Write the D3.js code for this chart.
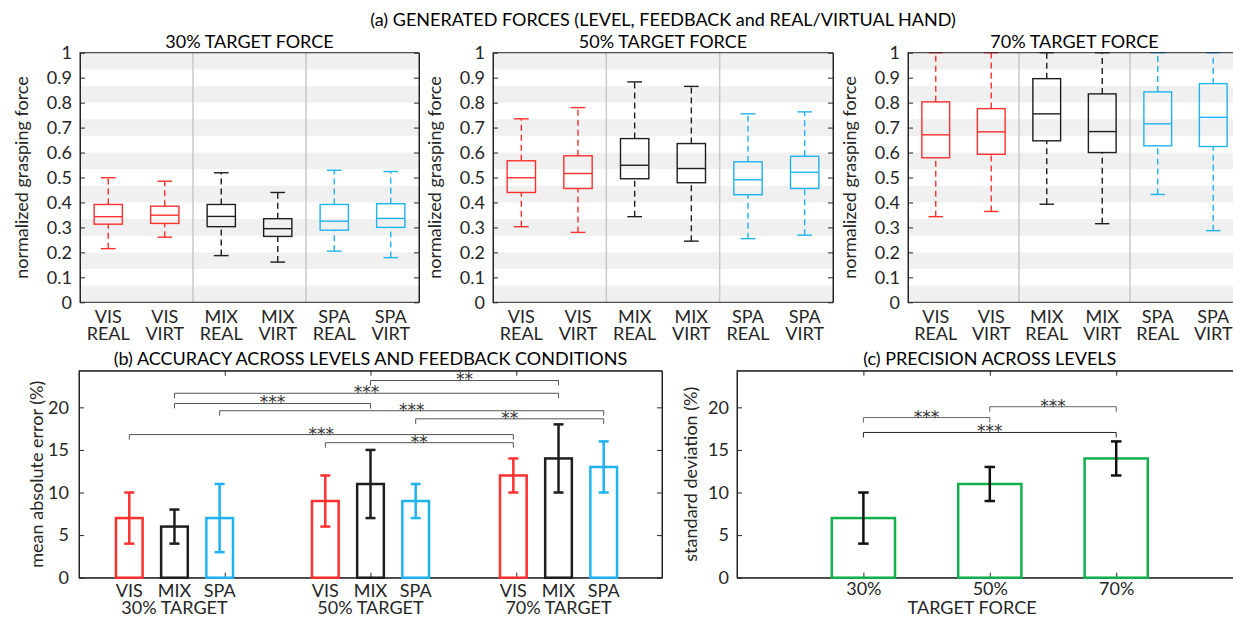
<!DOCTYPE html>
<html>
<head>
<meta charset="utf-8">
<script src="https://cdn.jsdelivr.net/npm/d3@7"></script>
<style>
  body { margin: 0; background: #fff; }
  text { font-family: Lato, "Noto Sans", sans-serif; fill: #262626; }
  .axis path, .axis line { stroke: #262626; }
  .stars { font-family: "DejaVu Sans", sans-serif; fill: #333; }
</style>
</head>
<body>
<svg id="fig" width="1233" height="617"></svg>
<script>

// ---- data ----
var boxCats = [["VIS", "REAL"], ["VIS", "VIRT"], ["MIX", "REAL"], ["MIX", "VIRT"], ["SPA", "REAL"], ["SPA", "VIRT"]];
var boxTitles = ["30% TARGET FORCE", "50% TARGET FORCE", "70% TARGET FORCE"];
var forceTicks = [0, 0.1, 0.2, 0.3, 0.4, 0.5, 0.6, 0.7, 0.8, 0.9, 1];

// [lower whisker, q1, median, q3, upper whisker]
var box30 = [[0.215, 0.313, 0.343, 0.392, 0.499], [0.261, 0.316, 0.349, 0.385, 0.485],
             [0.187, 0.303, 0.344, 0.392, 0.519], [0.161, 0.264, 0.295, 0.335, 0.440],
             [0.205, 0.289, 0.325, 0.392, 0.529], [0.179, 0.300, 0.336, 0.395, 0.524]];
var box50 = [[0.303, 0.440, 0.499, 0.567, 0.735], [0.280, 0.456, 0.516, 0.587, 0.780],
             [0.343, 0.495, 0.549, 0.656, 0.883], [0.245, 0.479, 0.536, 0.636, 0.865],
             [0.255, 0.431, 0.491, 0.563, 0.755], [0.269, 0.456, 0.521, 0.585, 0.763]];
var box70 = [[0.343, 0.579, 0.671, 0.803, 1.0], [0.364, 0.593, 0.683, 0.776, 1.0],
             [0.393, 0.647, 0.755, 0.896, 1.0], [0.315, 0.600, 0.684, 0.835, 1.0],
             [0.432, 0.627, 0.715, 0.843, 1.0], [0.287, 0.624, 0.741, 0.876, 1.0]];

var feedback = ["VIS", "MIX", "SPA"];
var accLevels = ["30% TARGET", "50% TARGET", "70% TARGET"];
var accMean = [[7, 6, 7], [9, 11, 9], [12, 14, 13]];
var accErr = [[3, 2, 4], [3, 4, 2], [2, 4, 3]];
// significance: [level, feedback] pairs, bracket height, label
var accSig = [
  { a: [1, 1], b: [2, 1], h: 23.15, s: "**" },
  { a: [0, 1], b: [2, 1], h: 21.65, s: "***" },
  { a: [0, 1], b: [1, 1], h: 20.45, s: "***" },
  { a: [0, 2], b: [2, 2], h: 19.6, s: "***" },
  { a: [1, 2], b: [2, 2], h: 18.65, s: "**" },
  { a: [0, 0], b: [2, 0], h: 16.8, s: "***" },
  { a: [1, 0], b: [2, 0], h: 15.85, s: "**" }
];
var errTicks = [0, 5, 10, 15, 20];

var precLevels = ["30%", "50%", "70%"];
var precMean = [7, 11, 14];
var precErr = [3, 2, 2];
var precSig = [
  { a: 0, b: 1, h: 18.8, s: "***" },
  { a: 1, b: 2, h: 20.07, s: "***" },
  { a: 0, b: 2, h: 17.05, s: "***" }
];

// ---- styles / layout ----
var fbColor = { VIS: "#ff3030", MIX: "#1e1e1e", SPA: "#1fb3f0" };
var green = "#13b04f";
var svg = d3.select("#fig");

function mathFmt(d) { return (d === 0 || d === 1) ? String(d) : d3.format(".1f")(d); }

// ---- (a) box plots ----
svg.append("text").attr("x", 663).attr("y", 26).attr("text-anchor", "middle")
  .style("font-size", "18px").style("fill", "#000")
  .text("(a) GENERATED FORCES (LEVEL, FEEDBACK and REAL/VIRTUAL HAND)");

var boxPanels = [{ x0: 80, x1: 419, d: box30 }, { x0: 493, x1: 833, d: box50 }, { x0: 908, x1: 1241, d: box70 }];
var topY0 = 52.7, topY1 = 302.3;

boxPanels.forEach(function(p, pi) {
  var g = svg.append("g");
  var x = d3.scaleLinear().domain([0.5, 6.5]).range([p.x0, p.x1]);
  var y = d3.scaleLinear().domain([0, 1]).range([topY1, topY0]);

  // striped background
  g.selectAll("rect.band").data(d3.range(0, 15, 2)).enter().append("rect")
    .attr("x", p.x0).attr("width", p.x1 - p.x0)
    .attr("y", function(i) { return y((i + 1) / 15); })
    .attr("height", function(i) { return y(i / 15) - y((i + 1) / 15); })
    .attr("fill", "#f0f0f0");

  // group separators
  g.selectAll("line.sep").data([2.5, 4.5]).enter().append("line")
    .attr("x1", x).attr("x2", x).attr("y1", topY0).attr("y2", topY1)
    .attr("stroke", "#c9c9c9").attr("stroke-width", 1.5);

  var bw = 0.5, cw = 0.26;
  p.d.forEach(function(b, i) {
    var c = fbColor[boxCats[i][0]], cx = x(i + 1);
    var bg = g.append("g").attr("stroke", c).attr("stroke-width", 1.4).attr("fill", "none");
    bg.append("line").attr("x1", cx).attr("x2", cx).attr("y1", y(b[0])).attr("y2", y(b[1]))
      .attr("stroke-dasharray", "6,4");
    bg.append("line").attr("x1", cx).attr("x2", cx).attr("y1", y(b[3])).attr("y2", y(b[4]))
      .attr("stroke-dasharray", "6,4");
    [b[0], b[4]].forEach(function(v) {
      bg.append("line").attr("x1", x(i + 1 - cw / 2)).attr("x2", x(i + 1 + cw / 2))
        .attr("y1", y(v)).attr("y2", y(v));
    });
    bg.append("rect").attr("x", x(i + 1 - bw / 2)).attr("width", x(i + 1 + bw / 2) - x(i + 1 - bw / 2))
      .attr("y", y(b[3])).attr("height", y(b[1]) - y(b[3]));
    bg.append("line").attr("x1", x(i + 1 - bw / 2)).attr("x2", x(i + 1 + bw / 2))
      .attr("y1", y(b[2])).attr("y2", y(b[2]));
  });

  // frame + axes
  g.append("rect").attr("x", p.x0).attr("y", topY0).attr("width", p.x1 - p.x0).attr("height", topY1 - topY0)
    .attr("fill", "none").attr("stroke", "#262626");
  var la = g.append("g").attr("class", "axis").attr("transform", "translate(" + p.x0 + ",0)")
    .call(d3.axisLeft(y).tickValues(forceTicks).tickFormat(mathFmt).tickSizeInner(-5).tickSizeOuter(0).tickPadding(8));
  la.selectAll("text").style("font-size", "18px");
  g.append("g").attr("class", "axis").attr("transform", "translate(" + p.x1 + ",0)")
    .call(d3.axisRight(y).tickValues(forceTicks).tickFormat("").tickSizeInner(-5).tickSizeOuter(0));

  boxCats.forEach(function(cat, i) {
    var t = g.append("text").attr("text-anchor", "middle").style("font-size", "18px");
    t.append("tspan").attr("x", x(i + 1)).attr("y", topY1 + 21).text(cat[0]);
    t.append("tspan").attr("x", x(i + 1)).attr("y", topY1 + 38).text(cat[1]);
  });

  g.append("text").attr("x", (p.x0 + p.x1) / 2).attr("y", 48).attr("text-anchor", "middle")
    .style("font-size", "18px").style("fill", "#000").text(boxTitles[pi]);

  g.append("text").attr("transform", "translate(" + (p.x0 - 52) + "," + ((topY0 + topY1) / 2) + ") rotate(-90)")
    .attr("text-anchor", "middle").style("font-size", "18px").text("normalized grasping force");
});

// ---- shared helpers for bottom panels ----
function bracket(g, x1, x2, yv, label, col) {
  g.append("path")
    .attr("d", "M" + x1 + "," + (yv + 5) + "V" + yv + "H" + x2 + "V" + (yv + 5))
    .attr("fill", "none").attr("stroke", col).attr("stroke-width", 1);
  g.append("text").attr("class", "stars").attr("x", (x1 + x2) / 2).attr("y", yv + 5)
    .attr("text-anchor", "middle").style("font-size", "17px").text(label);
}

function errBar(g, cx, lo, hi, col, w) {
  var e = g.append("g").attr("stroke", col).attr("stroke-width", 2.5);
  e.append("line").attr("x1", cx).attr("x2", cx).attr("y1", lo).attr("y2", hi);
  e.append("line").attr("x1", cx - w / 2).attr("x2", cx + w / 2).attr("y1", lo).attr("y2", lo);
  e.append("line").attr("x1", cx - w / 2).attr("x2", cx + w / 2).attr("y1", hi).attr("y2", hi);
}

var botY0 = 370.7, botY1 = 577.7;

// ---- (b) accuracy ----
(function() {
  var x0 = 79, x1 = 662;
  var g = svg.append("g");
  var x = d3.scaleLinear().domain([0, 4]).range([x0, x1]);
  var y = d3.scaleLinear().domain([0, 24.3]).range([botY1, botY0]);
  var groupX = [0.655, 2.0, 3.29], off = 0.31, bw = 0.183;
  function bx(l, f) { return groupX[l] + (f - 1) * off; }

  g.append("rect").attr("x", x0).attr("y", botY0).attr("width", x1 - x0).attr("height", botY1 - botY0)
    .attr("fill", "none").attr("stroke", "#262626");
  var la = g.append("g").attr("class", "axis").attr("transform", "translate(" + x0 + ",0)")
    .call(d3.axisLeft(y).tickValues(errTicks).tickSizeInner(-5).tickSizeOuter(0).tickPadding(10));
  la.selectAll("text").style("font-size", "18px");
  g.append("g").attr("class", "axis").attr("transform", "translate(" + x1 + ",0)")
    .call(d3.axisRight(y).tickValues(errTicks).tickFormat("").tickSizeInner(-5).tickSizeOuter(0));
  g.append("g").attr("class", "axis").attr("transform", "translate(0," + botY0 + ")")
    .call(d3.axisTop(x).tickValues([1, 2, 3]).tickFormat("").tickSizeInner(-5).tickSizeOuter(0));
  g.append("g").attr("class", "axis").attr("transform", "translate(0," + botY1 + ")")
    .call(d3.axisBottom(x).tickValues([1, 2, 3]).tickFormat("").tickSizeInner(-5).tickSizeOuter(0));

  accMean.forEach(function(row, l) {
    row.forEach(function(m, f) {
      var c = fbColor[feedback[f]], cx = x(bx(l, f));
      var w = x(bw) - x(0);
      g.append("rect").attr("x", cx - w / 2).attr("width", w).attr("y", y(m)).attr("height", y(0) - y(m))
        .attr("fill", "none").attr("stroke", c).attr("stroke-width", 2.5);
      errBar(g, cx, y(m - accErr[l][f]), y(m + accErr[l][f]), c, 10);
      g.append("text").attr("x", cx).attr("y", 596.5).attr("text-anchor", "middle")
        .style("font-size", "18px").text(feedback[f]);
    });
    g.append("text").attr("x", x(groupX[l])).attr("y", 614).attr("text-anchor", "middle")
      .style("font-size", "18px").text(accLevels[l]);
  });

  accSig.forEach(function(s) {
    bracket(g, x(bx(s.a[0], s.a[1])), x(bx(s.b[0], s.b[1])), y(s.h), s.s, "#555");
  });

  g.append("text").attr("x", (x0 + x1) / 2).attr("y", 365).attr("text-anchor", "middle")
    .style("font-size", "18px").style("fill", "#000")
    .text("(b) ACCURACY ACROSS LEVELS AND FEEDBACK CONDITIONS");
  g.append("text").attr("transform", "translate(" + (x0 - 36) + "," + ((botY0 + botY1) / 2) + ") rotate(-90)")
    .attr("text-anchor", "middle").style("font-size", "18px").text("mean absolute error (%)");
})();

// ---- (c) precision ----
(function() {
  var x0 = 737, x1 = 1242.6;
  var g = svg.append("g");
  var x = d3.scaleLinear().domain([0, 4]).range([x0, x1]);
  var y = d3.scaleLinear().domain([0, 24.3]).range([botY1, botY0]);
  var bw = 0.5;

  g.append("rect").attr("x", x0).attr("y", botY0).attr("width", x1 - x0).attr("height", botY1 - botY0)
    .attr("fill", "none").attr("stroke", "#262626");
  var la = g.append("g").attr("class", "axis").attr("transform", "translate(" + x0 + ",0)")
    .call(d3.axisLeft(y).tickValues(errTicks).tickSizeInner(-5).tickSizeOuter(0).tickPadding(8));
  la.selectAll("text").style("font-size", "18px");
  g.append("g").attr("class", "axis").attr("transform", "translate(0," + botY0 + ")")
    .call(d3.axisTop(x).tickValues([1, 2, 3]).tickFormat("").tickSizeInner(-5).tickSizeOuter(0));
  var ba = g.append("g").attr("class", "axis").attr("transform", "translate(0," + botY1 + ")")
    .call(d3.axisBottom(x).tickValues([1, 2, 3]).tickFormat(function(d) { return precLevels[d - 1]; })
      .tickSizeInner(-5).tickSizeOuter(0).tickPadding(5));
  ba.selectAll("text").style("font-size", "18px");

  precMean.forEach(function(m, i) {
    var cx = x(i + 1), w = x(bw) - x(0);
    g.append("rect").attr("x", cx - w / 2).attr("width", w).attr("y", y(m)).attr("height", y(0) - y(m))
      .attr("fill", "none").attr("stroke", green).attr("stroke-width", 2.5);
    errBar(g, cx, y(m - precErr[i]), y(m + precErr[i]), "#111", 10.5);
  });

  precSig.forEach(function(s, i) {
    bracket(g, x(s.a + 1), x(s.b + 1), y(s.h), s.s, i === 2 ? "#222" : "#666");
  });

  g.append("text").attr("x", x(2)).attr("y", 365).attr("text-anchor", "middle")
    .style("font-size", "18px").style("fill", "#000").text("(c) PRECISION ACROSS LEVELS");
  g.append("text").attr("x", x(1.86)).attr("y", 614).attr("text-anchor", "middle")
    .style("font-size", "18px").text("TARGET FORCE");
  g.append("text").attr("transform", "translate(" + (x0 - 40) + "," + ((botY0 + botY1) / 2) + ") rotate(-90)")
    .attr("text-anchor", "middle").style("font-size", "18px").text("standard deviation (%)");
})();

</script>
</body>
</html>
